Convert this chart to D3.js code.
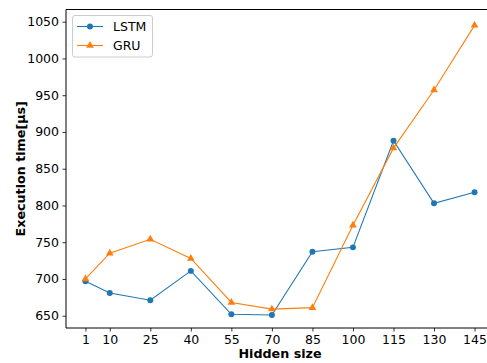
<!DOCTYPE html>
<html>
<head>
<meta charset="utf-8">
<script src="https://cdn.jsdelivr.net/npm/d3@7"></script>
<style>
html,body{margin:0;padding:0;background:#fff;}
svg{display:block;font-family:"DejaVu Sans",sans-serif;}
</style>
</head>
<body>
<svg id="chart" width="487" height="363"></svg>
<script>
const hiddenSizes = [1, 10, 25, 40, 55, 70, 85, 100, 115, 130, 145];
const lstmValues = [697, 681, 671, 711, 652, 651, 737, 743, 888, 803, 818];
const gruValues = [700, 735, 754, 728, 668, 659, 661, 773, 878, 957, 1045];
const yTicks = [650, 700, 750, 800, 850, 900, 950, 1000, 1050];

(function(){
const svg = d3.select("#chart");
const mLeft = 66, mTop = 9.5, mBottom = 328, mRight = 494;

const x = d3.scaleLinear().domain([-6.2, 152.2]).range([mLeft, mRight]);
const y = d3.scaleLinear().domain([633.3, 1066.6]).range([mBottom, mTop]);

const xAxis = d3.axisBottom(x).tickValues(hiddenSizes).tickSize(3.5).tickPadding(3.5).tickFormat(d3.format("d"));
const yAxis = d3.axisLeft(y).tickValues(yTicks).tickSize(3.5).tickPadding(3.5).tickFormat(d3.format("d"));

const gx = svg.append("g").attr("transform", `translate(0,${mBottom})`).call(xAxis);
const gy = svg.append("g").attr("transform", `translate(${mLeft},0)`).call(yAxis);
[gx, gy].forEach(g => {
  g.select(".domain").remove();
  g.selectAll(".tick line").attr("stroke", "#000").attr("stroke-width", 0.8);
  g.selectAll(".tick text").attr("fill", "#000").style("font-size", "12.5px").style("font-family", "DejaVu Sans");
});

svg.append("line").attr("x1", mLeft).attr("x2", mLeft).attr("y1", mTop).attr("y2", mBottom).attr("stroke", "#000").attr("stroke-width", 1);
svg.append("line").attr("x1", mLeft).attr("x2", mRight).attr("y1", mBottom).attr("y2", mBottom).attr("stroke", "#000").attr("stroke-width", 1);
svg.append("line").attr("x1", mLeft).attr("x2", mRight).attr("y1", mTop).attr("y2", mTop).attr("stroke", "#000").attr("stroke-width", 1);

const series = [
  {name: "LSTM", values: lstmValues, color: "#1f77b4", marker: "circle"},
  {name: "GRU", values: gruValues, color: "#ff7f0e", marker: "triangle"}
];

const line = d3.line().x(d => x(d[0])).y(d => y(d[1]));
const circleSym = d3.symbol().type(d3.symbolCircle).size(28);
const triSym = d3.symbol().type(d3.symbolTriangle).size(26);

series.forEach(s => {
  const pts = hiddenSizes.map((h, i) => [h, s.values[i]]);
  svg.append("path").datum(pts).attr("d", line).attr("fill", "none").attr("stroke", s.color).attr("stroke-width", 1.1);
  svg.append("g").selectAll("path").data(pts).enter().append("path")
    .attr("d", s.marker === "circle" ? circleSym : triSym)
    .attr("transform", d => `translate(${x(d[0])},${y(d[1])})`)
    .attr("fill", s.color);
});

svg.append("text").attr("x", 280).attr("y", 357.5).attr("text-anchor", "middle")
  .style("font-size", "12.7px").style("font-weight", "bold").text("Hidden size");
svg.append("text").attr("transform", `translate(24.5,${(mTop + mBottom) / 2}) rotate(-90)`).attr("text-anchor", "middle")
  .style("font-size", "12.7px").style("font-weight", "bold").text("Execution time[μs]");

const lg = svg.append("g");
lg.append("rect").attr("x", 72.5).attr("y", 15.5).attr("width", 80).attr("height", 41.5).attr("rx", 2.5)
  .attr("fill", "#fff").attr("fill-opacity", 0.8).attr("stroke", "#ccc").attr("stroke-width", 1);
series.forEach((s, i) => {
  const yy = 26.5 + i * 19;
  lg.append("line").attr("x1", 77).attr("x2", 103).attr("y1", yy).attr("y2", yy).attr("stroke", s.color).attr("stroke-width", 1.1);
  lg.append("path").attr("d", s.marker === "circle" ? circleSym : triSym).attr("transform", `translate(90,${yy})`).attr("fill", s.color);
  lg.append("text").attr("x", 113).attr("y", yy + 4.5).style("font-size", "12.5px").text(s.name);
});
})();
</script>
</body>
</html>
